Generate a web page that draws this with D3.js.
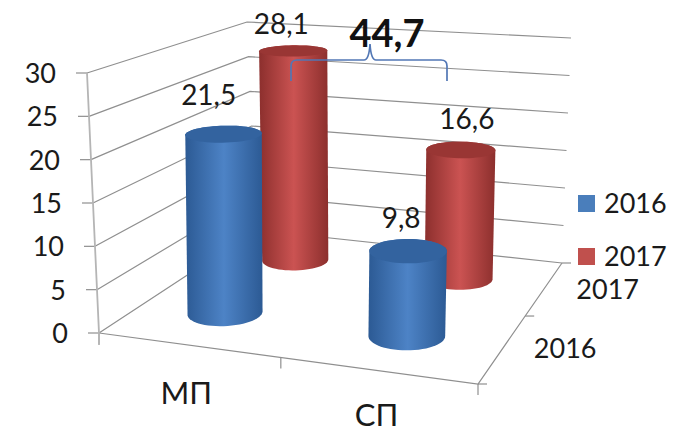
<!DOCTYPE html>
<html><head><meta charset="utf-8">
<script src="https://cdn.jsdelivr.net/npm/d3@7"></script>
<style>html,body{margin:0;padding:0;background:#fff}svg{display:block}text{font-family:Lato,"Open Sans",sans-serif;fill:#1a1a1a}</style>
</head><body><svg id="c" width="681" height="433"></svg>
<script>
const categories = ["МП", "СП"];
const seriesNames = ["2016", "2017"];
const values2016 = [21.5, 9.8];
const values2017 = [28.1, 16.6];
const valueTicks = [0, 5, 10, 15, 20, 25, 30];
const totalLabel = "44,7";
const colours = {
  "2016": {edge:"#2c5a94", mid:"#4d83c6", top:"#33639f", key:"#4a7ebb"},
  "2017": {edge:"#8c2f2d", mid:"#cb5352", top:"#993634", key:"#c0504d"}
};
const fmt = v => String(v).replace(".", ",");

// box corners in picture space: fl front-left, fr front-right, bl back-left, br back-right
const floor = {fl:[99,333], fr:[478,384], bl:[256,230], br:[562,263]};
const ceil  = {fl:[87,73],  fr:[479,103], bl:[247,22],  br:[571,38]};
function homography(q){
  const [x0,y0]=q.fl,[x1,y1]=q.fr,[x2,y2]=q.br,[x3,y3]=q.bl;
  const dx1=x1-x2,dx2=x3-x2,dy1=y1-y2,dy2=y3-y2,sx=x0-x1+x2-x3,sy=y0-y1+y2-y3;
  const d=dx1*dy2-dx2*dy1;
  const g=(sx*dy2-dx2*sy)/d,h=(dx1*sy-sx*dy1)/d;
  const a=x1-x0+g*x1,b=x3-x0+h*x3,c=x0,e=y1-y0+g*y1,f=y3-y0+h*y3,k=y0;
  return (u,v)=>{const w=g*u+h*v+1;return [(a*u+b*v+c)/w,(e*u+f*v+k)/w];};
}
const hFloor=homography(floor), hCeil=homography(ceil);
const zScale=d3.scaleLinear().domain([0,30]).range([0,1]);
function project(u,v,val){
  const p=hFloor(u,v),q=hCeil(u,v),t=zScale(val);
  return [p[0]+(q[0]-p[0])*t,p[1]+(q[1]-p[1])*t];
}
// cylinders stand nearly upright: their lean depends only on the category position
const leanScale=d3.scaleLinear().domain([0,1]).range([-5,7]);
function projectBar(u,v,val){
  const p=project(u,v,val), b=hFloor(u,v);
  return [b[0]+leanScale(u)*zScale(val),p[1]];
}
const uScale=d3.scaleBand().domain(categories).range([-0.018,1]);
const vScale=d3.scaleBand().domain(seriesNames).range([0,1]);
const ru=0.098, rv=0.105;

const svg=d3.select("#c");
const defs=svg.append("defs");
const line=d3.line();
const gridCol="#8f8f8f";

// walls
const grid=svg.append("g").attr("fill","none").attr("stroke",gridCol).attr("stroke-width",1.2);
valueTicks.forEach(t=>{
  grid.append("path").attr("d",line([project(0,0,t),project(0,1,t),project(1,1,t)]));
});
// value axis
svg.append("path").attr("d",line([project(0,0,30),project(0,0,0),[floor.fl[0],345]]))
  .attr("fill","none").attr("stroke","#b5b5b5").attr("stroke-width",1.8);
// floor edges
grid.append("path").attr("d",line([floor.fl,floor.fr,floor.br]));
valueTicks.forEach(t=>{
  const p=project(0,0,t);
  grid.append("path").attr("d",line([[p[0]-11,p[1]],p]));
  svg.append("text").attr("x",p[0]-31).attr("y",p[1]+10).attr("text-anchor","end")
    .attr("font-size",27).text(t);
});
// category ticks and labels
[0,0.5,1].forEach(u=>{
  const p=hFloor(u,0);
  grid.append("path").attr("d",line([p,[p[0],p[1]+11]]));
});
[0,0.5,1].forEach(v=>{
  const p=hFloor(1,v);
  grid.append("path").attr("d",line([p,[p[0]+9,p[1]]]));
});
const catOffsets=[[3,60],[1,56]];
categories.forEach((c,i)=>{
  const p=hFloor(uScale(c)+uScale.bandwidth()/2,0);
  svg.append("text").attr("x",p[0]+catOffsets[i][0]).attr("y",p[1]+catOffsets[i][1])
    .attr("text-anchor","middle").attr("font-size",31).text(c);
});
const serOffsets=[[62,10],[63,11]];
seriesNames.forEach((s,i)=>{
  const p=hFloor(1,vScale(s)+vScale.bandwidth()/2);
  svg.append("text").attr("x",p[0]+serOffsets[i][0]).attr("y",p[1]+serOffsets[i][1])
    .attr("text-anchor","middle").attr("font-size",27).text(s);
});

// cylinders: far series first
const angles=d3.range(0,360,6).map(a=>a*Math.PI/180);
const labelOffsets={"2017":[[-12,-17],[6,-21]],"2016":[[-15,-29],[-7,-23]]};
[["2017",values2017],["2016",values2016]].forEach(([s,vals])=>{
  vals.forEach((val,i)=>{
    const u=uScale(categories[i])+uScale.bandwidth()/2;
    const v=vScale(s)+vScale.bandwidth()/2;
    const ring=z=>angles.map(a=>projectBar(u+ru*Math.cos(a),v+rv*Math.sin(a),z));
    const bottom=ring(0), top=ring(val);
    const hull=d3.polygonHull(bottom.concat(top));
    const xs=hull.map(d=>d[0]);
    const id="g"+s+i;
    const grad=defs.append("linearGradient").attr("id",id).attr("gradientUnits","userSpaceOnUse")
      .attr("x1",d3.min(xs)).attr("x2",d3.max(xs)).attr("y1",0).attr("y2",0);
    [[0,colours[s].edge],[0.5,colours[s].mid],[1,colours[s].edge]].forEach(([o,c])=>
      grad.append("stop").attr("offset",o).attr("stop-color",c));
    svg.append("path").attr("d",line(hull)+"Z").attr("fill",`url(#${id})`);
    svg.append("path").attr("d",line(top)+"Z").attr("fill",colours[s].top);
    const c=projectBar(u,v,val);
    const o=labelOffsets[s][i];
    svg.append("text").attr("x",c[0]+o[0]).attr("y",c[1]+o[1]).attr("text-anchor","middle")
      .attr("font-size",28).text(fmt(val));
  });
});

// total bracket
svg.append("path").attr("d","M291,81V66Q291,60 297,60H364Q369,60 370,44Q371,60 376,60H441Q447,60 447,66V81")
  .attr("fill","none").attr("stroke","#5277b5").attr("stroke-width",1.7);
svg.append("text").attr("x",387).attr("y",47).attr("text-anchor","middle")
  .attr("font-size",38).attr("font-weight",700).style("fill","#111").text(totalLabel);

// legend
seriesNames.forEach((s,i)=>{
  const y=195+i*53;
  svg.append("rect").attr("x",578).attr("y",y).attr("width",17).attr("height",17).attr("fill",colours[s].key);
  svg.append("text").attr("x",604).attr("y",y+18).attr("font-size",27).text(s);
});
</script></body></html>
